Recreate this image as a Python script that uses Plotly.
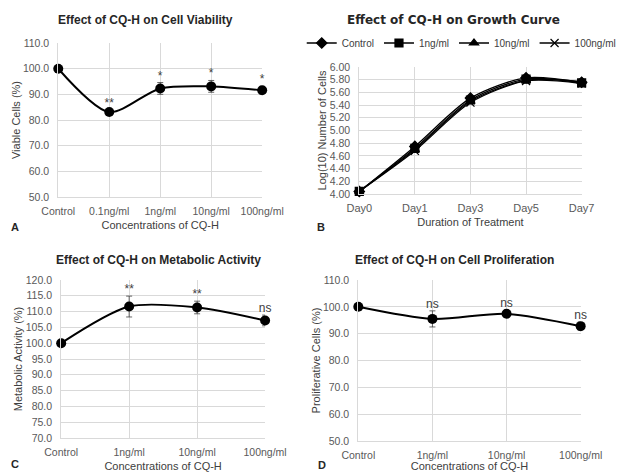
import plotly.graph_objects as go

# ---------- data ----------
conc_a = ["Control", "0.1ng/ml", "1ng/ml", "10ng/ml", "100ng/ml"]
viab = [100.0, 83.1, 92.3, 93.1, 91.6]
viab_err = [0.0, 0.9, 2.3, 2.3, 1.5]
viab_sig = ["", "**", "*", "*", "*"]

days = ["Day0", "Day1", "Day3", "Day5", "Day7"]
growth_names = ["Control", "1ng/ml", "10ng/ml", "100ng/ml"]
growth_control = [4.04, 4.75, 5.51, 5.83, 5.76]
growth_1ng = [4.04, 4.72, 5.48, 5.81, 5.75]
growth_10ng = [4.04, 4.70, 5.46, 5.79, 5.77]
growth_100ng = [4.04, 4.68, 5.44, 5.78, 5.74]
growth_symbols = ["diamond", "square", "triangle-up", "x-thin"]

conc_c = ["Control", "1ng/ml", "10ng/ml", "100ng/ml"]
metab = [100.0, 111.6, 111.3, 107.2]
metab_err = [0.0, 3.3, 2.0, 1.7]
metab_sig = ["", "**", "**", "ns"]

prolif = [100.0, 95.5, 97.4, 92.8]
prolif_err = [0.0, 3.0, 1.3, 1.5]
prolif_sig = ["", "ns", "ns", "ns"]

# ---------- style ----------
FONT = "Liberation Sans, Arial, sans-serif"
TICK = dict(family=FONT, size=10.5, color="#595959")
GRID = "#d9d9d9"
W, H = 621, 472


def px_x(v):
    return v / W


def px_y(v):
    return 1 - v / H


fig = go.Figure()


def add_panel(idx, cats, vals, errs, sig):
    xa = "x" if idx == 1 else f"x{idx}"
    ya = "y" if idx == 1 else f"y{idx}"
    fig.add_trace(go.Scatter(
        x=cats, y=vals, xaxis=xa, yaxis=ya, mode="lines+markers",
        line=dict(color="black", width=2, shape="spline", smoothing=0.8),
        marker=dict(symbol="circle", size=10, color="black"),
        error_y=dict(type="data", array=errs, visible=True, color="#404040",
                     thickness=0.8, width=3),
        cliponaxis=False, showlegend=False,
    ))
    fig.add_trace(go.Scatter(
        x=cats, y=[v + e for v, e in zip(vals, errs)], xaxis=xa, yaxis=ya,
        mode="text", text=sig, textposition="top center",
        textfont=dict(family=FONT, size=12, color="#404040"),
        cliponaxis=False, showlegend=False,
    ))


add_panel(1, conc_a, viab, viab_err, viab_sig)
add_panel(3, conc_c, metab, metab_err, metab_sig)
add_panel(4, conc_c, prolif, prolif_err, prolif_sig)

for name, ys, sym in zip(growth_names,
                         [growth_control, growth_1ng, growth_10ng, growth_100ng],
                         growth_symbols):
    fig.add_trace(go.Scatter(
        x=days, y=ys, xaxis="x2", yaxis="y2", mode="lines+markers", name=name,
        line=dict(color="black", width=1.3, shape="spline", smoothing=0.8),
        marker=dict(symbol=sym, size=8, color="black",
                    line=dict(color="black", width=1.2)),
        cliponaxis=False,
    ))


def xaxis(dom, n, title, anchor, tickfont=TICK):
    return dict(domain=dom, anchor=anchor, range=[0, n - 1], showgrid=True,
                gridcolor=GRID, gridwidth=1, showline=True, linecolor=GRID,
                linewidth=1, mirror=False, ticks="", tickfont=tickfont,
                ticklabelstandoff=4, automargin=False,
                title=dict(text=title, font=dict(family=FONT, size=11, color="#404040"),
                           standoff=5),
                zeroline=False, fixedrange=True)


def yaxis(dom, rng, dtick, fmt, title, anchor):
    return dict(domain=dom, anchor=anchor, range=rng, dtick=dtick, tickformat=fmt,
                showgrid=True, gridcolor=GRID, gridwidth=1, showline=True,
                linecolor=GRID, linewidth=1, ticks="", tickfont=TICK,
                ticklabelstandoff=6, automargin=False,
                title=dict(text=title, font=dict(family=FONT, size=11, color="#404040"),
                           standoff=0),
                zeroline=False, fixedrange=True)


fig.update_layout(
    width=W, height=H, margin=dict(l=0, r=0, t=0, b=0),
    paper_bgcolor="white", plot_bgcolor="white",
    xaxis=xaxis([px_x(60), px_x(270)], len(conc_a), "Concentrations of CQ-H", "y"),
    yaxis=yaxis([px_y(197), px_y(43)], [50, 110], 10, ".1f", "Viable Cells (%)", "x"),
    xaxis2=xaxis([px_x(370), px_x(599)], len(days), "Duration of Treatment", "y2",
                 tickfont=dict(family=FONT, size=11, color="#595959")),
    yaxis2=yaxis([px_y(194), px_y(67)], [4.0, 6.0], 0.2, ".2f", "Log(10) Number of Cells", "x2"),
    xaxis3=xaxis([px_x(63), px_x(273)], len(conc_c), "Concentrations of CQ-H", "y3"),
    yaxis3=yaxis([px_y(438), px_y(280)], [70, 120], 5, ".1f", "Metabolic Activity (%)", "x3"),
    xaxis4=xaxis([px_x(369), px_x(598)], len(conc_c), "Concentrations of CQ-H", "y4"),
    yaxis4=yaxis([px_y(441), px_y(280)], [50, 110], 10, ".1f", "Proliferative Cells (%)", "x4"),
    legend=dict(orientation="h", x=px_x(475), y=px_y(43), xanchor="center", yanchor="middle",
                font=dict(family=FONT, size=10, color="#404040"),
                itemwidth=30, tracegroupgap=0, bgcolor="rgba(0,0,0,0)"),
    showlegend=True,
)

titles = [
    ("Effect of CQ-H on Cell Viability", 150, 20, FONT, 12),
    ("Effect of CQ-H on Growth Curve", 467, 20, "DejaVu Sans, sans-serif", 12),
    ("Effect of CQ-H on Metabolic Activity", 163, 260, FONT, 12),
    ("Effect of CQ-H on Cell Proliferation", 468, 260, FONT, 12),
]
for text, x, y, fam, sz in titles:
    fig.add_annotation(text=f"<b>{text}</b>", x=px_x(x), y=px_y(y), xref="paper", yref="paper",
                       showarrow=False, xanchor="center", yanchor="middle",
                       font=dict(family=fam, size=sz, color="#262626"))

for letter, x, y in [("A", 15, 227), ("B", 331, 227), ("C", 15, 464), ("D", 332, 465)]:
    fig.add_annotation(text=f"<b>{letter}</b>", x=px_x(x), y=px_y(y), xref="paper", yref="paper",
                       showarrow=False, xanchor="center", yanchor="middle",
                       font=dict(family=FONT, size=11, color="#262626"))

fig.write_html("out.html")
